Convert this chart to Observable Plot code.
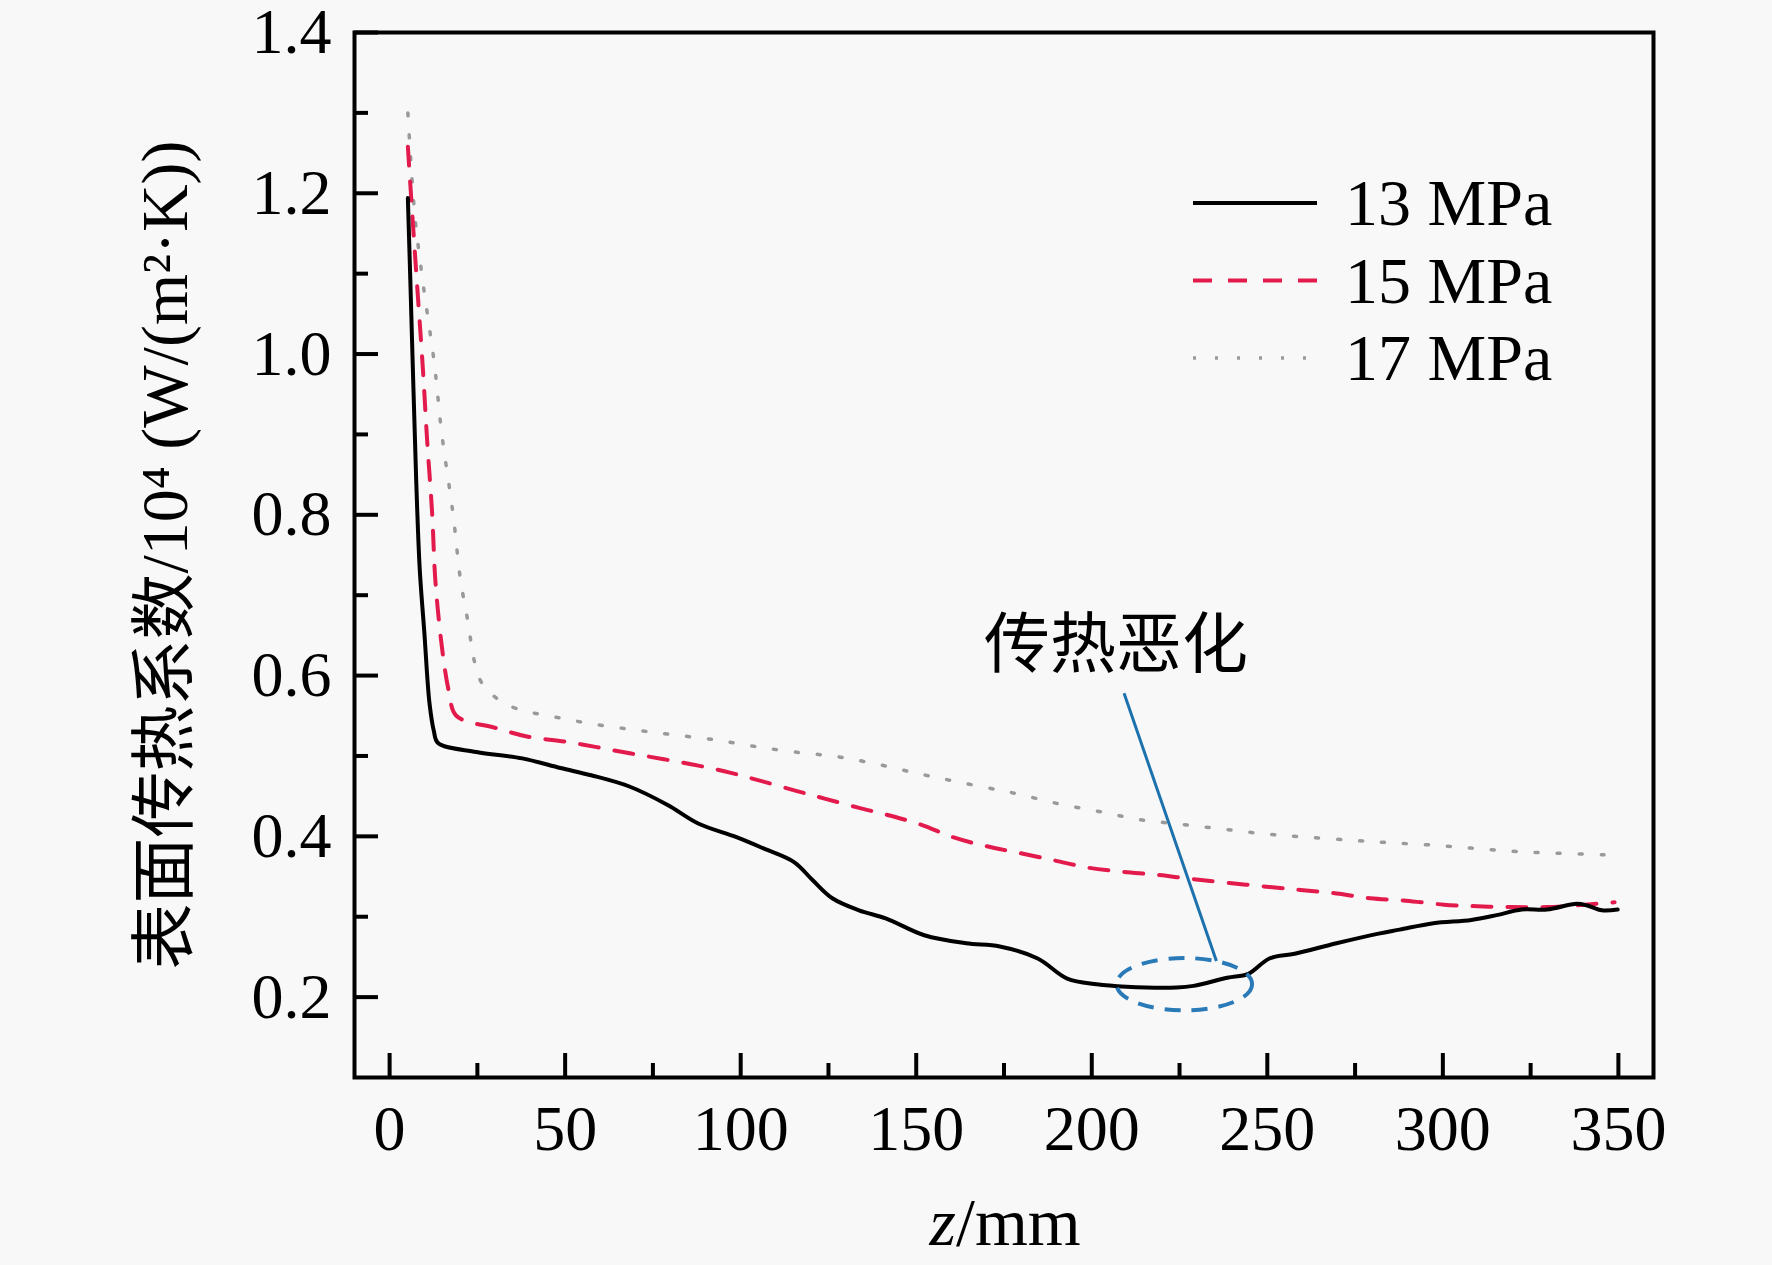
<!DOCTYPE html>
<html>
<head>
<meta charset="utf-8">
<script src="https://cdn.jsdelivr.net/npm/d3@7"></script>
<script src="https://cdn.jsdelivr.net/npm/@observablehq/plot@0.6"></script>
<style>
  html, body { margin: 0; padding: 0; background: #f8f8f8; }
  #chart { width: 1772px; height: 1265px; }
</style>
</head>
<body>
<div id="chart"></div>
<script>
// ---- data (z in mm, h in 10^4 W/(m2·K)) ----
const seriesNames = ["13 MPa", "15 MPa", "17 MPa"];

const p13 = [[5.2,1.194],[5.9,1.092],[6.5,1.0],[7.2,0.897],[7.8,0.814],[8.6,0.731],[10.0,0.647],[10.7,0.600],[11.4,0.564],[12.6,0.531],[13.8,0.516],
  [24.7,0.505],[37.8,0.497],[48.7,0.485],[57.4,0.476],[68.3,0.462],[79.2,0.439],[87.9,0.416],[98.8,0.399],[106.5,0.385],[115.2,0.368],[120.6,0.345],
  [126.1,0.323],[133.7,0.308],[141.3,0.298],[152.3,0.277],[164.2,0.267],[173.8,0.263],[184.6,0.248],[193.0,0.223],[201.4,0.216],[209.8,0.213],
  [224.2,0.212],[229.0,0.214],[238.6,0.224],[244.6,0.229],[250.6,0.248],[257.8,0.254],[269.7,0.267],[281.7,0.279],[287.7,0.284],[297.3,0.292],
  [308.1,0.296],[315.3,0.302],[322.5,0.309],[329.7,0.309],[338.1,0.316],[341.1,0.314],[345.3,0.308],[349.8,0.309]];

const p15 = [[5.2,1.258],[6.7,1.158],[8.1,1.069],[9.5,0.980],[10.7,0.892],[12.1,0.803],[13.1,0.714],[15.2,0.625],[16.9,0.580],[19.0,0.550],
  [30.1,0.535],[39.4,0.524],[49.8,0.518],[59.0,0.511],[68.8,0.503],[78.1,0.496],[87.9,0.488],[97.2,0.479],[106.5,0.468],[116.3,0.456],[123.9,0.447],
  [133.2,0.436],[142.4,0.426],[151.7,0.414],[160.4,0.399],[169.7,0.388],[178.6,0.380],[189.4,0.370],[199.0,0.361],[208.6,0.356],[218.8,0.352],
  [228.4,0.347],[239.2,0.342],[250.6,0.337],[260.2,0.333],[269.7,0.329],[279.3,0.323],[289.5,0.320],[300.3,0.315],[309.9,0.313],[319.5,0.312],
  [329.7,0.312],[340.5,0.315],[348.9,0.318]];

const p17 = [[5.2,1.300],[7.2,1.172],[9.5,1.089],[12.8,0.986],[14.8,0.903],[18.1,0.800],[20.2,0.719],[22.3,0.667],[24.2,0.617],[26.1,0.592],
  [30.4,0.572],[36.1,0.559],[47.6,0.548],[59.0,0.539],[70.5,0.532],[81.4,0.526],[92.8,0.520],[103.7,0.512],[115.2,0.505],[127.7,0.499],[139.7,0.489],
  [150.6,0.478],[161.5,0.468],[173.0,0.458],[178.6,0.453],[190.0,0.441],[202.0,0.431],[213.4,0.421],[225.4,0.415],[237.4,0.409],[249.4,0.403],
  [261.3,0.399],[274.5,0.395],[285.3,0.392],[297.3,0.389],[309.3,0.385],[321.3,0.381],[333.3,0.379],[345.9,0.377]];

const xMajorTicks = [0, 50, 100, 150, 200, 250, 300, 350];
const xMinorTicks = [25, 75, 125, 175, 225, 275, 325];
const yMajorTicks = [0.2, 0.4, 0.6, 0.8, 1.0, 1.2, 1.4];
const yMinorTicks = [0.3, 0.5, 0.7, 0.9, 1.1, 1.3];

const yLabel = "表面传热系数/10⁴ (W/(m²·K))";
const xLabelItalic = "z";
const xLabelRest = "/mm";

// annotation: text, leader line, ellipse (data units)
const annoText = [{z: 206.9, h: 0.637, t: "传热恶化"}];
const annoLeader = [{z1: 209.2, h1: 0.578, z2: 235.5, h2: 0.245}];
const annoEllipse = {z1: 207.2, z2: 245.8, h1: 0.183, h2: 0.248};

// ---- styles ----
const serif = "'Liberation Serif', 'Times New Roman', 'Noto Sans CJK SC', serif";
const cjk = "'Noto Sans CJK SC', 'Liberation Serif', sans-serif";
const styles = [
  {stroke: "#000000", strokeWidth: 4, dash: null},
  {stroke: "#e31a4c", strokeWidth: 4, dash: "19,16"},
  {stroke: "#9a9a9a", strokeWidth: 3.5, dash: "3,19"}
];

const toRows = (pts) => pts.map(([z, h]) => ({z, h}));
const rows = [p13, p15, p17].map(toRows);

function legendMark(index, scales, values, dim) {
  const right = dim.width - dim.marginRight;
  const g = d3.create("svg:g");
  seriesNames.forEach((name, i) => {
    const s = styles[i];
    const y = dim.marginTop + 171 + i * 77.5;
    g.append("line")
      .attr("x1", right - 460).attr("x2", right - 336)
      .attr("y1", y).attr("y2", y)
      .attr("stroke", s.stroke).attr("stroke-width", s.strokeWidth)
      .attr("stroke-dasharray", s.dash);
    g.append("text")
      .attr("x", right - 308).attr("y", y).attr("dy", "0.34em")
      .attr("text-anchor", "start")
      .attr("font-family", serif).attr("font-size", 66).attr("fill", "#000")
      .text(name);
  });
  return g.node();
}

function ellipseMark(index, scales) {
  const x1 = scales.x(annoEllipse.z1), x2 = scales.x(annoEllipse.z2);
  const y1 = scales.y(annoEllipse.h1), y2 = scales.y(annoEllipse.h2);
  const g = d3.create("svg:g");
  g.append("ellipse")
    .attr("cx", (x1 + x2) / 2).attr("cy", (y1 + y2) / 2)
    .attr("rx", Math.abs(x2 - x1) / 2).attr("ry", Math.abs(y2 - y1) / 2)
    .attr("fill", "none").attr("stroke", "#2a7ab8")
    .attr("stroke-width", 4).attr("stroke-dasharray", "16,11");
  return g.node();
}

const chart = Plot.plot({
  width: 1772,
  height: 1265,
  marginLeft: 354,
  marginRight: 119,
  marginTop: 32,
  marginBottom: 188,
  style: {background: "transparent", fontFamily: serif, color: "#000"},
  x: {domain: [-10, 360], label: null},
  y: {domain: [0.1, 1.4], label: null},
  marks: [
    // data lines
    Plot.line(rows[2], {x: "z", y: "h", curve: "catmull-rom", stroke: styles[2].stroke, strokeWidth: styles[2].strokeWidth, strokeDasharray: styles[2].dash}),
    Plot.line(rows[1], {x: "z", y: "h", curve: "catmull-rom", stroke: styles[1].stroke, strokeWidth: styles[1].strokeWidth, strokeDasharray: styles[1].dash}),
    Plot.line(rows[0], {x: "z", y: "h", curve: "catmull-rom", stroke: styles[0].stroke, strokeWidth: styles[0].strokeWidth}),
    // frame
    Plot.frame({stroke: "#000", strokeWidth: 4}),
    // inward ticks
    Plot.axisX({ticks: xMajorTicks, tickSize: 24, dy: -24, strokeWidth: 4, tickFormat: () => "", label: null}),
    Plot.axisX({ticks: xMinorTicks, tickSize: 14, dy: -14, strokeWidth: 4, tickFormat: () => "", label: null}),
    Plot.axisY({ticks: yMajorTicks, tickSize: 24, dx: 24, strokeWidth: 4, tickFormat: () => "", label: null}),
    Plot.axisY({ticks: yMinorTicks, tickSize: 14, dx: 14, strokeWidth: 4, tickFormat: () => "", label: null}),
    // tick labels
    Plot.axisX({ticks: xMajorTicks, tickSize: 0, tickPadding: 27, fontSize: 64, fontFamily: serif, tickFormat: d3.format("d"), label: null}),
    Plot.axisY({ticks: yMajorTicks, tickSize: 0, tickPadding: 23, fontSize: 64, fontFamily: serif, tickFormat: d3.format(".1f"), label: null}),
    // axis titles
    Plot.text([yLabel], {frameAnchor: "left", dx: -189, rotate: -90, fontSize: 66, fontFamily: serif, lineAnchor: "middle", textAnchor: "middle", fill: "#000"}),
    Plot.text([xLabelItalic], {frameAnchor: "bottom", dx: -48, dy: 146, fontSize: 68, fontFamily: serif, fontStyle: "italic", textAnchor: "end", lineAnchor: "middle", fill: "#000"}),
    Plot.text([xLabelRest], {frameAnchor: "bottom", dx: -48, dy: 146, fontSize: 68, fontFamily: serif, textAnchor: "start", lineAnchor: "middle", fill: "#000"}),
    // annotation
    Plot.link(annoLeader, {x1: "z1", y1: "h1", x2: "z2", y2: "h2", stroke: "#1d72ad", strokeWidth: 3}),
    ellipseMark,
    Plot.text(annoText, {x: "z", y: "h", text: "t", fontSize: 66, fontFamily: cjk, fill: "#000", textAnchor: "middle"}),
    // legend
    legendMark
  ]
});

document.getElementById("chart").appendChild(chart);
</script>
</body>
</html>
